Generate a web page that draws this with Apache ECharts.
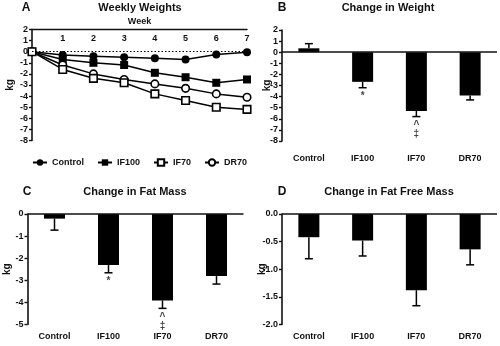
<!DOCTYPE html>
<html><head><meta charset="utf-8">
<script src="https://cdn.jsdelivr.net/npm/echarts@6/dist/echarts.min.js"></script>
<style>html,body{margin:0;padding:0;background:#fff}#c{width:500px;height:346px}</style>
</head><body><div id="c"></div>
<script>
// ---- data ----
const weeks = [0, 1, 2, 3, 4, 5, 6, 7];
const weekTicks = ['', '1', '2', '3', '4', '5', '6', '7'];
const controlWeekly = [0, -0.3, -0.4, -0.5, -0.6, -0.7, -0.25, -0.05];
const if100Weekly = [0, -0.7, -1.0, -1.2, -1.9, -2.3, -2.8, -2.5];
const if70Weekly = [0, -1.6, -2.4, -2.8, -3.8, -4.4, -5.0, -5.2];
const dr70Weekly = [0, -1.2, -2.0, -2.5, -2.9, -3.3, -3.8, -4.1];

const groups = ['Control', 'IF100', 'IF70', 'DR70'];
const weightChange = [0.35, -2.67, -5.3, -3.9];
const weightSem = [0.42, 0.53, 0.5, 0.4];
const weightMarks = ['', '*', '^\n‡', ''];
const fatChange = [-0.21, -2.31, -3.91, -2.81];
const fatSem = [0.52, 0.35, 0.36, 0.36];
const fatMarks = ['', '*', '^\n‡', ''];
const ffmChange = [-0.42, -0.48, -1.38, -0.64];
const ffmSem = [0.39, 0.28, 0.28, 0.28];

// ---- helpers ----
const FONT = 'Liberation Sans, Arial, sans-serif';
const INK = '#111';
const pair = (xs, ys) => xs.map((x, i) => [x, ys[i]]);
const errEnd = (v, e) => v >= 0 ? v + e : v - e;

function yAxisCfg(gi, min, max, interval, gap, fmt) {
  return {
    gridIndex: gi, type: 'value', min, max, interval,
    name: 'kg', nameLocation: 'middle', nameRotate: 90, nameGap: gap, nameMoveOverlap: false,
    nameTextStyle: {fontFamily: FONT, fontWeight: 'bold', fontSize: 10, color: INK},
    axisLine: {show: true, lineStyle: {color: INK, width: 1.6}},
    axisTick: {show: true, length: 3, lineStyle: {color: INK, width: 1.4}},
    axisLabel: {fontFamily: FONT, fontWeight: 'bold', fontSize: 9, color: INK, margin: 4,
      formatter: fmt || (v => String(v))},
    splitLine: {show: false}
  };
}
function catAxisCfg(gi, margin) {
  return {
    gridIndex: gi, type: 'category', data: groups, position: 'bottom',
    axisLine: {show: false, onZero: false}, axisTick: {show: false},
    axisLabel: {fontFamily: FONT, fontWeight: 'bold', fontSize: 9, color: INK, margin: margin, interval: 0},
    splitLine: {show: false}
  };
}
function barSeries(gi, vals) {
  return {
    type: 'bar', xAxisIndex: gi, yAxisIndex: gi, data: vals, barWidth: 21,
    itemStyle: {color: '#000'}, silent: true,
    markLine: {silent: true, symbol: 'none', label: {show: false},
      lineStyle: {color: INK, width: 1.6, type: 'solid'}, data: [{yAxis: 0}]}
  };
}
function errSeries(gi, vals, sems) {
  return {
    type: 'custom', xAxisIndex: gi, yAxisIndex: gi, silent: true, z: 1,
    data: vals.map((v, i) => [i, v, errEnd(v, sems[i])]),
    renderItem: (params, api) => {
      const a = api.coord([api.value(0), api.value(1)]);
      const b = api.coord([api.value(0), api.value(2)]);
      const st = {stroke: '#000', lineWidth: 1.5};
      return {type: 'group', children: [
        {type: 'line', shape: {x1: a[0], y1: a[1], x2: b[0], y2: b[1]}, style: st},
        {type: 'line', shape: {x1: b[0] - 4, y1: b[1], x2: b[0] + 4, y2: b[1]}, style: st}
      ]};
    }
  };
}
function markSeries(gi, vals, sems, marks) {
  return {
    type: 'scatter', xAxisIndex: gi, yAxisIndex: gi, symbolSize: 0, silent: true,
    data: vals.map((v, i) => ({value: [i, errEnd(v, sems[i])], mark: marks[i]})),
    label: {show: true, position: 'bottom', distance: 4,
      fontFamily: FONT, fontWeight: 'bold', fontSize: 10, lineHeight: 9, color: INK,
      formatter: p => p.data.mark}
  };
}
function lineSeries(name, ys, symbol, filled) {
  return {
    name, type: 'line', xAxisIndex: 0, yAxisIndex: 0, data: pair(weeks, ys),
    symbol, symbolSize: filled ? 8 : 7.5, showAllSymbol: true,
    lineStyle: {color: '#000', width: 1.5},
    itemStyle: {color: filled ? '#000' : '#fff', borderColor: '#000', borderWidth: filled ? 0 : 1.6},
    emphasis: {disabled: true}
  };
}

const chart = echarts.init(document.getElementById('c'), null, {renderer: 'canvas'});
const txt = (x, y, text, size, align) => ({type: 'text', x, y, style: {text, fill: INK,
  font: `bold ${size}px ${FONT}`, textAlign: align || 'center', textVerticalAlign: 'middle'}});

const ctrlSeries = lineSeries('Control', controlWeekly, 'circle', true);
ctrlSeries.markLine = {silent: true, symbol: 'none', label: {show: false},
  lineStyle: {color: '#000', width: 1.2, type: [1.5, 2]}, data: [{yAxis: 0}]};

chart.setOption({
  animation: false,
  textStyle: {fontFamily: FONT},
  grid: [
    {left: 32, top: 29.5, width: 215, height: 111},
    {left: 282, top: 30, width: 215, height: 111},
    {left: 27.5, top: 214, width: 216, height: 110.5},
    {left: 282, top: 214, width: 215, height: 110.5}
  ],
  xAxis: [
    {gridIndex: 0, type: 'value', min: 0, max: 7, interval: 1, position: 'top',
      name: 'Week', nameLocation: 'middle', nameGap: 3, nameMoveOverlap: false,
      nameTextStyle: {fontFamily: FONT, fontWeight: 'bold', fontSize: 9, color: INK},
      axisLine: {show: true, onZero: false, lineStyle: {color: INK, width: 1.4}},
      axisTick: {show: false},
      axisLabel: {inside: true, margin: 5, fontFamily: FONT, fontWeight: 'bold', fontSize: 9, color: INK,
        formatter: v => weekTicks[v] || ''},
      splitLine: {show: false}},
    catAxisCfg(1, 13),
    catAxisCfg(2, 8),
    catAxisCfg(3, 8)
  ],
  yAxis: [
    yAxisCfg(0, -8, 2, 1, 17),
    yAxisCfg(1, -8, 2, 1, 10),
    yAxisCfg(2, -5, 0, 1, 15),
    yAxisCfg(3, -2, 0, 0.5, 14.5, v => v.toFixed(1))
  ],
  legend: {
    data: ['Control', 'IF100', 'IF70', 'DR70'], left: 27, top: 153,
    itemWidth: 14, itemHeight: 8, itemGap: 13,
    textStyle: {fontFamily: FONT, fontWeight: 'bold', fontSize: 9, color: INK},
    selectedMode: false
  },
  series: [
    ctrlSeries,
    lineSeries('IF100', if100Weekly, 'rect', true),
    lineSeries('DR70', dr70Weekly, 'circle', false),
    lineSeries('IF70', if70Weekly, 'rect', false),
    barSeries(1, weightChange), errSeries(1, weightChange, weightSem), markSeries(1, weightChange, weightSem, weightMarks),
    barSeries(2, fatChange), errSeries(2, fatChange, fatSem), markSeries(2, fatChange, fatSem, fatMarks),
    barSeries(3, ffmChange), errSeries(3, ffmChange, ffmSem)
  ],
  graphic: [
    txt(26, 8, 'A', 12), txt(140, 8, 'Weekly Weights', 11),
    txt(282, 8, 'B', 12), txt(388, 8, 'Change in Weight', 11),
    txt(27, 192, 'C', 12), txt(135, 192, 'Change in Fat Mass', 11),
    txt(282, 192, 'D', 12), txt(389, 192, 'Change in Fat Free Mass', 11)
  ]
});
</script></body></html>
